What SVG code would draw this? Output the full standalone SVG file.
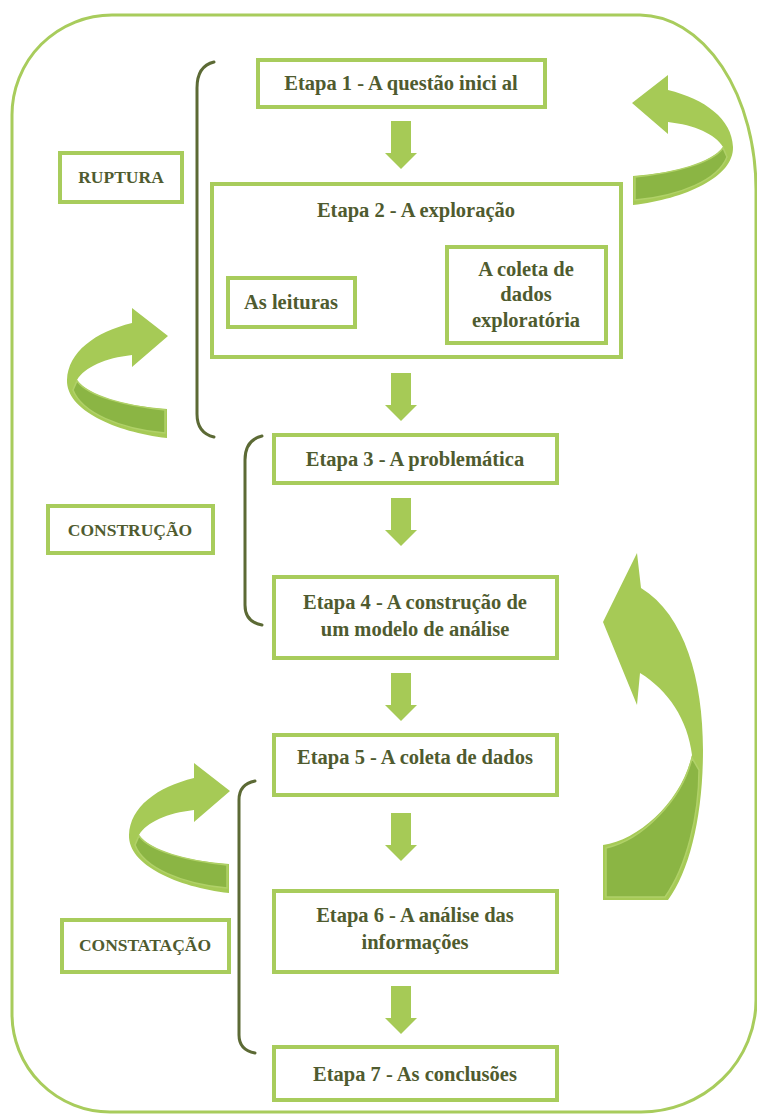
<svg xmlns="http://www.w3.org/2000/svg" xmlns:xlink="http://www.w3.org/1999/xlink" width="757" height="1116" viewBox="0 0 757 1116">
<style>
.box{fill:#ffffff;stroke:#a8cc5c;stroke-width:4}
.t{font-family:"Liberation Serif","Times New Roman",serif;font-weight:bold;font-size:20.5px;fill:#4f5b2f;text-anchor:middle}
.lbl{font-size:17.5px}
.br{fill:none;stroke:#5c6a35;stroke-width:3;stroke-linecap:round}
.down{fill:#a6ca56}
.body{fill:#a6ca56}
.band{fill:#8bb544;stroke:#b0d168;stroke-width:1.5}
</style>
<defs>
<path id="dn" d="M-10,0 H10 V32 H16 L0,48 L-16,32 H-10 Z"/>
<g id="curl">
<path class="body" d="M167,438 C115,432 66,410 67,380 C68,352 95,332 132,323 L132,308 L168,336 L132,367 L132,355 C105,358 85,367 77,380 C88,396 125,406 167,409 Z"/>
<path class="band" d="M77,381 C88,396 125,406 165,410 L165,433 C120,429 82,413 73,390 Z"/>
</g>
</defs>
<path id="frame" d="M112,15 H640 A117 175 0 0 1 756,190 V1000 A115 112 0 0 1 641,1112 H110 A98 98 0 0 1 12,1014 V115 A100 100 0 0 1 112,15 Z" fill="none" stroke="#a8cc5c" stroke-width="3"/>

<g id="connectors">
<use xlink:href="#dn" href="#dn" class="down" x="401" y="121"/>
<use xlink:href="#dn" href="#dn" class="down" x="401" y="373"/>
<use xlink:href="#dn" href="#dn" class="down" x="401" y="498"/>
<use xlink:href="#dn" href="#dn" class="down" x="401" y="673"/>
<use xlink:href="#dn" href="#dn" class="down" x="401" y="813"/>
<use xlink:href="#dn" href="#dn" class="down" x="401" y="986"/>
<g id="loop-left-top"><use xlink:href="#curl" href="#curl"/></g>
<g id="loop-right-top"><use xlink:href="#curl" href="#curl" transform="translate(800,-233) scale(-1,1)"/></g>
<g id="loop-left-bottom"><use xlink:href="#curl" href="#curl" transform="translate(62,455)"/></g>
<g id="loop-right-big">
<path class="body" d="M637,553 L641,588 C685,615 703,680 703,750 C703,815 690,870 668,900 L603,900 L603,845 C640,840 682,800 692,755 C688,720 668,690 640,673 L637,705 L603,622 Z"/>
<path class="band" d="M692,758 C682,800 642,840 606,848 L606,897 L665,897 C687,866 699,815 699,770 Z"/>
</g>
</g>

<g id="brackets">
<path class="br" d="M214,62 Q197,66 197,88 L197,414 Q197,433 214,437"/>
<path class="br" d="M262,436 Q245,440 245,460 L245,605 Q245,622 262,625"/>
<path class="br" d="M255,781 Q239,784 239,800 L239,1035 Q239,1050 255,1053"/>
</g>

<g id="etapa1"><rect class="box" x="258" y="60" width="287" height="47"/><text class="t" x="401" y="90">Etapa 1 - A questão inici al</text></g>
<g id="etapa2"><rect class="box" x="212" y="184" width="409" height="173"/><text class="t" x="416" y="217">Etapa 2 - A exploração</text></g>
<g id="leituras"><rect class="box" x="228" y="278" width="127" height="49"/><text class="t" x="291" y="309">As leituras</text></g>
<g id="coleta-exploratoria"><rect class="box" x="447" y="247" width="159" height="96"/><text class="t" x="526" y="276">A coleta de</text><text class="t" x="526" y="301">dados</text><text class="t" x="526" y="327">exploratória</text></g>
<g id="ruptura"><rect class="box" x="60" y="153" width="122" height="49"/><text class="t lbl" x="121" y="183">RUPTURA</text></g>
<g id="etapa3"><rect class="box" x="274" y="435" width="283" height="48"/><text class="t" x="415" y="466">Etapa 3 - A problemática</text></g>
<g id="construcao"><rect class="box" x="48" y="506" width="165" height="47"/><text class="t lbl" x="130" y="536">CONSTRUÇÃO</text></g>
<g id="etapa4"><rect class="box" x="274" y="577" width="283" height="81"/><text class="t" x="415" y="609">Etapa 4 - A construção de</text><text class="t" x="415" y="636">um modelo de análise</text></g>
<g id="etapa5"><rect class="box" x="274" y="735" width="283" height="60"/><text class="t" x="415" y="764">Etapa 5 - A coleta de dados</text></g>
<g id="etapa6"><rect class="box" x="274" y="891" width="283" height="81"/><text class="t" x="415" y="922">Etapa 6 - A análise das</text><text class="t" x="415" y="949">informações</text></g>
<g id="constatacao"><rect class="box" x="62" y="920" width="167" height="52"/><text class="t lbl" x="145" y="951">CONSTATAÇÃO</text></g>
<g id="etapa7"><rect class="box" x="274" y="1047" width="283" height="53"/><text class="t" x="415" y="1081">Etapa 7 - As conclusões</text></g>
</svg>
